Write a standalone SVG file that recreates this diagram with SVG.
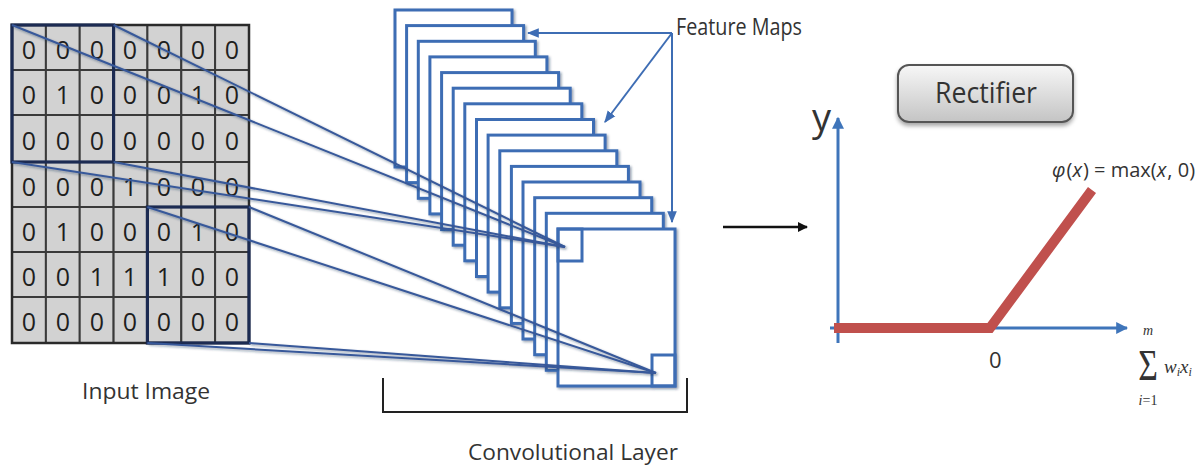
<svg xmlns="http://www.w3.org/2000/svg" width="1204" height="468" viewBox="0 0 1204 468">
<defs>
<style>
.cell{fill:#d2d2d2;stroke:#3a3a3a;stroke-width:2}
.dig{font-family:"Open Sans","Liberation Sans",sans-serif;font-size:25px;fill:#1e1e1e;text-anchor:middle}
.rf{fill:none;stroke:#1c2b52;stroke-width:3.2}
.fm{fill:#ffffff;stroke:#3e6db4;stroke-width:3}
.sq{fill:none;stroke:#3e6db4;stroke-width:3}
.conn{stroke:#37599a;stroke-width:2;fill:none}
.lbl{font-family:"Open Sans","Liberation Sans",sans-serif;fill:#333333}
.ax{stroke:#3f75ba;stroke-width:3;fill:none}
.relu{stroke:#c0504d;stroke-width:10;fill:none;stroke-linejoin:miter}
.math{font-family:"Liberation Serif","DejaVu Serif",serif;fill:#333333}
</style>
<filter id="sh" x="-10%" y="-10%" width="130%" height="130%">
<feDropShadow dx="1.5" dy="1.5" stdDeviation="1" flood-color="#1a2a50" flood-opacity="0.45"/>
</filter>
<filter id="bsh" x="-10%" y="-20%" width="130%" height="150%">
<feDropShadow dx="0" dy="3" stdDeviation="2" flood-color="#000" flood-opacity="0.35"/>
</filter>
<linearGradient id="btn" x1="0" y1="0" x2="0" y2="1">
<stop offset="0" stop-color="#f7f7f7"/>
<stop offset="1" stop-color="#c4c4c4"/>
</linearGradient>
<marker id="bluehead" viewBox="0 0 10 10" refX="9" refY="5" markerWidth="4" markerHeight="4" orient="auto-start-reverse">
<path d="M0,0 L10,5 L0,10 z" fill="#3f75ba"/>
</marker>
<marker id="fmhead" viewBox="0 0 10 10" refX="9" refY="5" markerWidth="6" markerHeight="6" orient="auto">
<path d="M0,1 L10,5 L0,9 z" fill="#3e6db4"/>
</marker>
<marker id="blackhead" viewBox="0 0 10 10" refX="9" refY="5" markerWidth="4" markerHeight="4" orient="auto">
<path d="M0,0 L10,5 L0,10 z" fill="#111"/>
</marker>
</defs>
<rect width="1204" height="468" fill="#ffffff"/>

<g id="input-image">
<g>
<rect class="cell" x="12" y="25" width="33.9" height="45"/><rect class="cell" x="45.9" y="25" width="33.9" height="45"/><rect class="cell" x="79.7" y="25" width="33.9" height="45"/><rect class="cell" x="113.6" y="25" width="33.9" height="45"/><rect class="cell" x="147.4" y="25" width="33.9" height="45"/><rect class="cell" x="181.3" y="25" width="33.9" height="45"/><rect class="cell" x="215.1" y="25" width="33.9" height="45"/>
<rect class="cell" x="12" y="70" width="33.9" height="45"/><rect class="cell" x="45.9" y="70" width="33.9" height="45"/><rect class="cell" x="79.7" y="70" width="33.9" height="45"/><rect class="cell" x="113.6" y="70" width="33.9" height="45"/><rect class="cell" x="147.4" y="70" width="33.9" height="45"/><rect class="cell" x="181.3" y="70" width="33.9" height="45"/><rect class="cell" x="215.1" y="70" width="33.9" height="45"/>
<rect class="cell" x="12" y="115" width="33.9" height="47"/><rect class="cell" x="45.9" y="115" width="33.9" height="47"/><rect class="cell" x="79.7" y="115" width="33.9" height="47"/><rect class="cell" x="113.6" y="115" width="33.9" height="47"/><rect class="cell" x="147.4" y="115" width="33.9" height="47"/><rect class="cell" x="181.3" y="115" width="33.9" height="47"/><rect class="cell" x="215.1" y="115" width="33.9" height="47"/>
<rect class="cell" x="12" y="162" width="33.9" height="45"/><rect class="cell" x="45.9" y="162" width="33.9" height="45"/><rect class="cell" x="79.7" y="162" width="33.9" height="45"/><rect class="cell" x="113.6" y="162" width="33.9" height="45"/><rect class="cell" x="147.4" y="162" width="33.9" height="45"/><rect class="cell" x="181.3" y="162" width="33.9" height="45"/><rect class="cell" x="215.1" y="162" width="33.9" height="45"/>
<rect class="cell" x="12" y="207" width="33.9" height="45"/><rect class="cell" x="45.9" y="207" width="33.9" height="45"/><rect class="cell" x="79.7" y="207" width="33.9" height="45"/><rect class="cell" x="113.6" y="207" width="33.9" height="45"/><rect class="cell" x="147.4" y="207" width="33.9" height="45"/><rect class="cell" x="181.3" y="207" width="33.9" height="45"/><rect class="cell" x="215.1" y="207" width="33.9" height="45"/>
<rect class="cell" x="12" y="252" width="33.9" height="45"/><rect class="cell" x="45.9" y="252" width="33.9" height="45"/><rect class="cell" x="79.7" y="252" width="33.9" height="45"/><rect class="cell" x="113.6" y="252" width="33.9" height="45"/><rect class="cell" x="147.4" y="252" width="33.9" height="45"/><rect class="cell" x="181.3" y="252" width="33.9" height="45"/><rect class="cell" x="215.1" y="252" width="33.9" height="45"/>
<rect class="cell" x="12" y="297" width="33.9" height="46"/><rect class="cell" x="45.9" y="297" width="33.9" height="46"/><rect class="cell" x="79.7" y="297" width="33.9" height="46"/><rect class="cell" x="113.6" y="297" width="33.9" height="46"/><rect class="cell" x="147.4" y="297" width="33.9" height="46"/><rect class="cell" x="181.3" y="297" width="33.9" height="46"/><rect class="cell" x="215.1" y="297" width="33.9" height="46"/>
</g>
<g class="dig">
<text x="29" y="59">0</text><text x="63" y="59">0</text><text x="97" y="59">0</text><text x="130" y="59">0</text><text x="164" y="59">0</text><text x="198" y="59">0</text><text x="232" y="59">0</text>
<text x="29" y="104">0</text><text x="63" y="104">1</text><text x="97" y="104">0</text><text x="130" y="104">0</text><text x="164" y="104">0</text><text x="198" y="104">1</text><text x="232" y="104">0</text>
<text x="29" y="150">0</text><text x="63" y="150">0</text><text x="97" y="150">0</text><text x="130" y="150">0</text><text x="164" y="150">0</text><text x="198" y="150">0</text><text x="232" y="150">0</text>
<text x="29" y="196">0</text><text x="63" y="196">0</text><text x="97" y="196">0</text><text x="130" y="196">1</text><text x="164" y="196">0</text><text x="198" y="196">0</text><text x="232" y="196">0</text>
<text x="29" y="241">0</text><text x="63" y="241">1</text><text x="97" y="241">0</text><text x="130" y="241">0</text><text x="164" y="241">0</text><text x="198" y="241">1</text><text x="232" y="241">0</text>
<text x="29" y="286">0</text><text x="63" y="286">0</text><text x="97" y="286">1</text><text x="130" y="286">1</text><text x="164" y="286">1</text><text x="198" y="286">0</text><text x="232" y="286">0</text>
<text x="29" y="331">0</text><text x="63" y="331">0</text><text x="97" y="331">0</text><text x="130" y="331">0</text><text x="164" y="331">0</text><text x="198" y="331">0</text><text x="232" y="331">0</text>
</g>
<rect x="12" y="25" width="237" height="318" fill="none" stroke="#2a2a2a" stroke-width="2.5"/>
<rect class="rf" x="12" y="25" width="101.6" height="137"/>
<rect class="rf" x="147.4" y="207" width="101.6" height="136"/>
<text class="lbl" x="82" y="399" font-size="22" textLength="128" lengthAdjust="spacingAndGlyphs">Input Image</text>
</g>

<g id="feature-maps" filter="url(#sh)">
<rect class="fm" x="395.0" y="10.0" width="117" height="157"/>
<rect class="fm" x="406.6" y="25.6" width="117" height="157"/>
<rect class="fm" x="418.3" y="41.3" width="117" height="157"/>
<rect class="fm" x="429.9" y="56.9" width="117" height="157"/>
<rect class="fm" x="441.6" y="72.6" width="117" height="157"/>
<rect class="fm" x="453.2" y="88.2" width="117" height="157"/>
<rect class="fm" x="464.8" y="103.8" width="117" height="157"/>
<rect class="fm" x="476.5" y="119.5" width="117" height="157"/>
<rect class="fm" x="488.1" y="135.1" width="117" height="157"/>
<rect class="fm" x="499.8" y="150.8" width="117" height="157"/>
<rect class="fm" x="511.4" y="166.4" width="117" height="157"/>
<rect class="fm" x="523.0" y="182.0" width="117" height="157"/>
<rect class="fm" x="534.7" y="197.7" width="117" height="157"/>
<rect class="fm" x="546.3" y="213.3" width="117" height="157"/>
<rect class="fm" x="558.0" y="229.0" width="117" height="157"/>
<rect class="sq" x="558" y="229" width="24" height="32"/>
<rect class="sq" x="652" y="355" width="23" height="31"/>
</g>

<g id="convolutional-layer">
<path d="M383,378 V412 H687 V378" fill="none" stroke="#222" stroke-width="2"/>
<text class="lbl" x="468" y="460" font-size="22" textLength="210" lengthAdjust="spacingAndGlyphs">Convolutional Layer</text>
</g>

<g id="feature-maps-label">
<text class="lbl" x="676" y="35" font-size="23" textLength="126" lengthAdjust="spacingAndGlyphs">Feature Maps</text>
</g>

<g id="connectors">
<g filter="url(#sh)">
<line class="conn" x1="12" y1="25" x2="565" y2="247"/>
<line class="conn" x1="113.6" y1="25" x2="565" y2="247"/>
<line class="conn" x1="12" y1="162" x2="565" y2="247"/>
<line class="conn" x1="113.6" y1="162" x2="565" y2="247"/>
<line class="conn" x1="147.4" y1="207" x2="656" y2="373"/>
<line class="conn" x1="249" y1="207" x2="656" y2="373"/>
<line class="conn" x1="147.4" y1="343" x2="656" y2="373"/>
<line class="conn" x1="249" y1="343" x2="656" y2="373"/>
</g>
<g stroke="#3e6db4" stroke-width="2" fill="none">
<line x1="672" y1="33" x2="528" y2="33" marker-end="url(#fmhead)"/>
<line x1="672" y1="33" x2="605" y2="122" marker-end="url(#fmhead)"/>
<line x1="672" y1="33" x2="672" y2="222" marker-end="url(#fmhead)"/>
</g>
<line x1="723" y1="227" x2="807" y2="227" stroke="#111" stroke-width="2.5" marker-end="url(#blackhead)"/>
</g>

<g id="rectifier">
<rect x="898" y="65" width="175" height="57" rx="11" fill="url(#btn)" stroke="#555" stroke-width="2" filter="url(#bsh)"/>
<text class="lbl" x="935" y="103" font-size="30" fill="#222" textLength="102" lengthAdjust="spacingAndGlyphs">Rectifier</text>
</g>

<g id="relu-chart">
<line class="ax" x1="838" y1="343" x2="838" y2="118" marker-end="url(#bluehead)"/>
<line class="ax" x1="830" y1="328" x2="1127" y2="328" marker-end="url(#bluehead)"/>
<polyline class="relu" points="834,328 990,328 1092,190"/>
<text class="lbl" x="812" y="131" font-size="38" fill="#222">y</text>
<text class="lbl" x="989" y="368" font-size="22">0</text>
<text class="lbl" x="1052" y="177" font-size="20"><tspan font-style="italic">φ</tspan><tspan dx="1">(</tspan><tspan font-style="italic">x</tspan><tspan dx="1">) = max(</tspan><tspan font-style="italic">x</tspan><tspan dx="1">, 0)</tspan></text>
<text class="math" x="1148" y="335" font-size="14" font-style="italic" text-anchor="middle">m</text>
<text class="math" transform="translate(1148,380) scale(0.75,1)" x="0" y="0" font-size="45" text-anchor="middle">Σ</text>
<text class="math" x="1148" y="405" font-size="14" text-anchor="middle"><tspan font-style="italic">i</tspan>=1</text>
<text class="math" x="1164" y="373" font-size="19" font-style="italic">w<tspan font-size="12" dy="3">i</tspan><tspan dy="-3">x</tspan><tspan font-size="12" dy="3">i</tspan></text>
</g>
</svg>
